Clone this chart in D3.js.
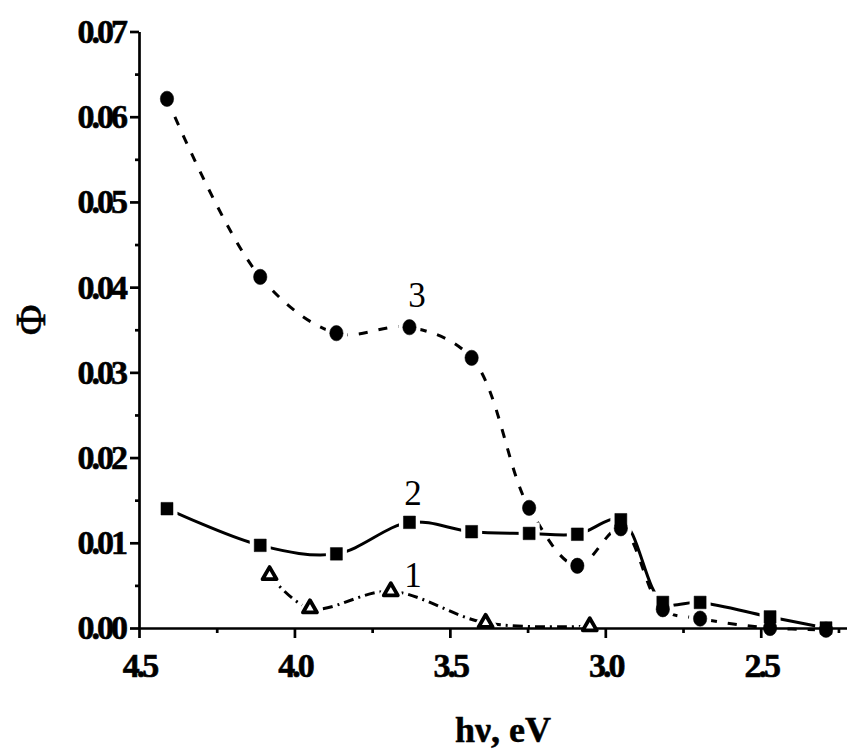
<!DOCTYPE html>
<html>
<head>
<meta charset="utf-8">
<script src="https://cdn.jsdelivr.net/npm/d3@7"></script>
<style>
  body { margin: 0; background: #fff; }
  svg { display: block; }
</style>
</head>
<body>
<svg id="chart" width="847" height="756"></svg>
<script>
// Photon energy (eV) shared by curves 2 and 3
const energy = [4.41, 4.11, 3.865, 3.63, 3.43, 3.245, 3.09, 2.95, 2.815, 2.695, 2.47, 2.29];
// Curve 2 (squares, solid)
const phi2 = [0.0140, 0.0097, 0.0087, 0.0124, 0.0113, 0.0111, 0.0110, 0.0127, 0.0030, 0.0030, 0.0013, 0.0000];
// Curve 3 (circles, dashed)
const phi3 = [0.0621, 0.0412, 0.0346, 0.0353, 0.0317, 0.0141, 0.0073, 0.0117, 0.0022, 0.0011, 0.0000, -0.0002];
// Curve 1 (triangles, dash-dot)
const energy1 = [4.08, 3.95, 3.69, 3.385, 3.05];
const phi1 = [0.0062, 0.0023, 0.0043, 0.0006, 0.0002];

const xTickValues = [4.5, 4.0, 3.5, 3.0, 2.5];
const xTickLabels = ["4.5", "4.0", "3.5", "3.0", "2.5"];
const xMinorTicks = [4.25, 3.75, 3.25, 2.75, 2.25];
const yTickValues = [0, 0.01, 0.02, 0.03, 0.04, 0.05, 0.06, 0.07];
const yTickLabels = ["0.00", "0.01", "0.02", "0.03", "0.04", "0.05", "0.06", "0.07"];
const yMinorTicks = [0.005, 0.015, 0.025, 0.035, 0.045, 0.055, 0.065];
const curveNames = ["1", "2", "3"];
const xTitle = "hν, eV";
const yTitle = "Φ";

const svg = d3.select("#chart");
const x = d3.scaleLinear().domain([4.5, 2.2]).range([139, 854]);
const y = d3.scaleLinear().domain([0, 0.07]).range([628, 31.5]);

const serif = "'Liberation Serif', 'Times New Roman', serif";

const series = [
  { name: curveNames[2], xs: energy, ys: phi3, symbol: d3.symbolCircle, size: 140, sy: 1.15, dash: "9,11", hollow: false, labelAt: [417, 307] },
  { name: curveNames[1], xs: energy, ys: phi2, symbol: d3.symbolSquare, size: 144, sy: 1.05, dash: null, hollow: false, labelAt: [413, 505] },
  { name: curveNames[0], xs: energy1, ys: phi1, symbol: d3.symbolTriangle, size: 85, sy: 1, dash: "10,5,2,5", hollow: true, labelAt: [413, 587] }
];

const line = d3.line()
  .x(d => x(d[0]))
  .y(d => y(d[1]))
  .curve(d3.curveCatmullRom.alpha(0.5));

const gLines = svg.append("g");
const gHalo = svg.append("g");
const gAxes = svg.append("g");
const gMarks = svg.append("g");

series.forEach(s => {
  const pts = s.xs.map((e, i) => [e, s.ys[i]]);
  gLines.append("path")
    .attr("d", line(pts))
    .attr("fill", "none")
    .attr("stroke", "#000")
    .attr("stroke-width", 3)
    .attr("stroke-dasharray", s.dash);

  const sym = d3.symbol().type(s.symbol).size(s.size);
  // white gap between curve and its symbols
  gHalo.selectAll(null).data(pts).join("path")
    .attr("d", sym)
    .attr("transform", d => `translate(${x(d[0])},${y(d[1])}) scale(1,${s.sy})`)
    .attr("fill", "#fff")
    .attr("stroke", "#fff")
    .attr("stroke-width", 9);

  gMarks.selectAll(null).data(pts).join("path")
    .attr("d", sym)
    .attr("transform", d => `translate(${x(d[0])},${y(d[1])}) scale(1,${s.sy})`)
    .attr("fill", s.hollow ? "#fff" : "#000")
    .attr("stroke", "#000")
    .attr("stroke-width", s.hollow ? 3.8 : 0.5)
    .attr("stroke-linejoin", "round");

  gMarks.append("text")
    .attr("x", s.labelAt[0])
    .attr("y", s.labelAt[1])
    .attr("text-anchor", "middle")
    .attr("font-family", serif)
    .attr("font-size", 35)
    .text(s.name);
});

// Axes
const xAxis = gAxes.append("g")
  .attr("transform", `translate(0,${y(0)})`)
  .call(d3.axisBottom(x).tickValues(xTickValues).tickSize(10).tickSizeOuter(0)
    .tickFormat((d, i) => xTickLabels[i]));
gAxes.append("g")
  .attr("transform", `translate(0,${y(0)})`)
  .call(d3.axisBottom(x).tickValues(xMinorTicks).tickSize(5).tickSizeOuter(0).tickFormat(""))
  .call(g => g.select(".domain").remove());

const yAxis = gAxes.append("g")
  .attr("transform", `translate(${x(4.5)},0)`)
  .call(d3.axisLeft(y).tickValues(yTickValues).tickSize(9).tickSizeOuter(0)
    .tickFormat((d, i) => yTickLabels[i]));
gAxes.append("g")
  .attr("transform", `translate(${x(4.5)},0)`)
  .call(d3.axisLeft(y).tickValues(yMinorTicks).tickSize(4).tickSizeOuter(0).tickFormat(""))
  .call(g => g.select(".domain").remove());

gAxes.selectAll(".domain, .tick line")
  .attr("stroke", "#000")
  .attr("stroke-width", 2.7);

gAxes.selectAll(".tick text")
  .attr("font-family", serif)
  .attr("font-weight", "bold")
  .attr("font-size", 34)
  .attr("letter-spacing", "-3px")
  .attr("stroke", "#000")
  .attr("stroke-width", 0.6)
  .attr("fill", "#000");

xAxis.selectAll(".tick text").attr("y", 25);
yAxis.selectAll(".tick text").attr("x", -14);

// Axis titles
svg.append("text")
  .attr("x", 503)
  .attr("y", 742)
  .attr("text-anchor", "middle")
  .attr("font-family", serif)
  .attr("font-weight", "bold")
  .attr("font-size", 36)
  .attr("stroke", "#000")
  .attr("stroke-width", 0.5)
  .text(xTitle);

svg.append("text")
  .attr("transform", "translate(45,320) rotate(-90)")
  .attr("text-anchor", "middle")
  .attr("font-family", serif)
  .attr("font-size", 42)
  .attr("stroke", "#000")
  .attr("stroke-width", 0.6)
  .text(yTitle);
</script>
</body>
</html>
